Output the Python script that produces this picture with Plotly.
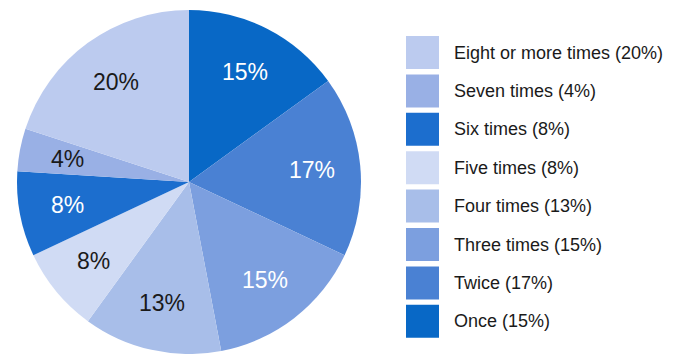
import math
import plotly.graph_objects as go

categories = ["Once", "Twice", "Three times", "Four times", "Five times",
              "Six times", "Seven times", "Eight or more times"]
values = [15, 17, 15, 13, 8, 8, 4, 20]
colors = ["#0868C6", "#4A81D3", "#7C9FDF", "#A8BEE9", "#D0DBF4",
          "#1C6ECE", "#99B0E5", "#BCCBEF"]
text_colors = ["white", "white", "white", "#1a1a1a", "#1a1a1a",
               "white", "#1a1a1a", "#1a1a1a"]

W, H = 678, 354
FONT = "Liberation Sans, Arial, sans-serif"

# pie domain (pixels)
px0, px1 = 14, 364
py_top, py_bot = 10, H
fig = go.Figure()
fig.add_trace(go.Pie(
    labels=categories,
    values=values,
    sort=False,
    direction="clockwise",
    rotation=0,
    marker=dict(colors=colors, line=dict(width=0)),
    textinfo="none",
    domain=dict(x=[px0 / W, px1 / W], y=[0, 1 - py_top / H]),
    showlegend=False,
    hoverinfo="label+percent",
))

shapes = []
annotations = []

# slice labels at mid-angle, ~72% of radius
cx = (px0 + px1) / 2
cy = (py_top + py_bot) / 2
R = min(px1 - px0, py_bot - py_top) / 2
total = sum(values)
cum = 0
for val, tc in zip(values, text_colors):
    mid = (cum + val / 2) / total * 2 * math.pi
    cum += val
    x = cx + 0.72 * R * math.sin(mid)
    y = cy - 0.72 * R * math.cos(mid)
    annotations.append(dict(
        xref="paper", yref="paper", x=x / W, y=1 - y / H,
        xanchor="center", yanchor="middle", showarrow=False,
        text=f"{val}%", font=dict(family=FONT, size=23, color=tc)))

# custom legend (reversed order, top = last category)
legend_x0 = 406
sw = 33
row0 = 36
step = 38.4
for i, (cat, val, col) in enumerate(reversed(list(zip(categories, values, colors)))):
    y0 = row0 + i * step
    shapes.append(dict(
        type="rect", xref="paper", yref="paper",
        x0=legend_x0 / W, x1=(legend_x0 + sw) / W,
        y0=1 - y0 / H, y1=1 - (y0 + sw) / H,
        fillcolor=col, line=dict(width=0)))
    annotations.append(dict(
        xref="paper", yref="paper",
        x=452 / W, y=1 - (y0 + sw / 2) / H,
        xanchor="left", yanchor="middle",
        text=f"{cat} ({val}%)", showarrow=False,
        font=dict(family=FONT, size=18, color="#1a1a1a")))

fig.update_layout(
    width=W, height=H,
    margin=dict(l=0, r=0, t=0, b=0),
    paper_bgcolor="white",
    plot_bgcolor="white",
    shapes=shapes,
    annotations=annotations,
)

fig.write_html("out.html")
